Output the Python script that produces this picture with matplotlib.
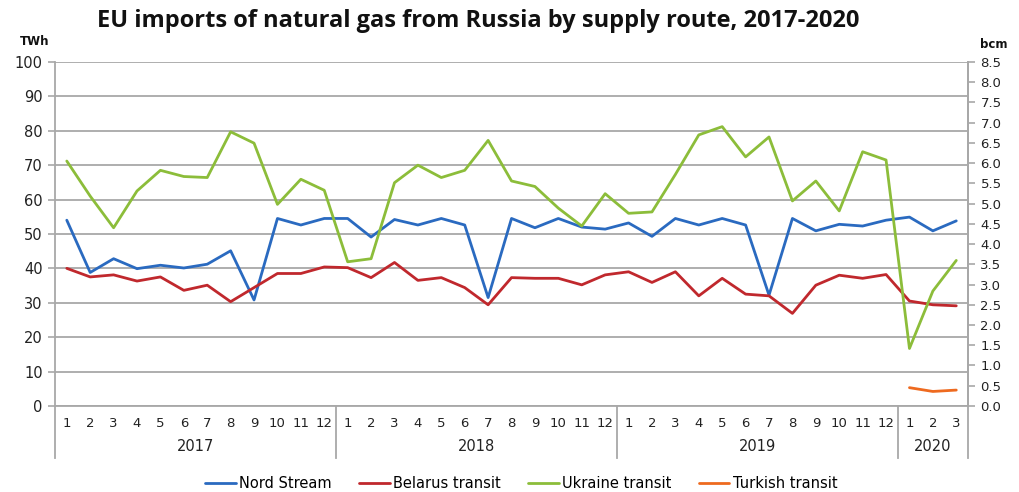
import matplotlib
matplotlib.use("Agg")
import matplotlib.pyplot as plt
import numpy as np

years = ["2017", "2018", "2019", "2020"]
months_per_year = [12, 12, 12, 3]
month_labels = [str(m) for n in months_per_year for m in range(1, n + 1)]

nord_stream = [54.0, 38.8, 42.8, 39.9, 40.9, 40.1, 41.2, 45.1, 30.8, 54.5, 52.6, 54.5,
               54.5, 49.1, 54.2, 52.6, 54.5, 52.6, 31.5, 54.5, 51.8, 54.5, 52.0, 51.4,
               53.2, 49.3, 54.5, 52.6, 54.5, 52.6, 32.2, 54.5, 50.9, 52.8, 52.3, 54.0,
               54.9, 50.9, 53.8]
belarus = [40.0, 37.5, 38.1, 36.3, 37.5, 33.6, 35.1, 30.3, 34.4, 38.5, 38.5, 40.4,
           40.2, 37.3, 41.7, 36.5, 37.3, 34.4, 29.4, 37.3, 37.1, 37.1, 35.2, 38.1,
           39.0, 35.9, 39.0, 32.0, 37.1, 32.5, 32.0, 26.9, 35.1, 38.0, 37.1, 38.2,
           30.5, 29.4, 29.1]
ukraine = [71.2, 61.0, 51.8, 62.5, 68.5, 66.7, 66.4, 79.7, 76.4, 58.6, 65.9, 62.7,
           41.9, 42.8, 64.9, 70.0, 66.4, 68.5, 77.2, 65.4, 63.8, 57.5, 52.3, 61.7,
           56.0, 56.4, 67.3, 78.8, 81.2, 72.4, 78.2, 59.6, 65.4, 56.7, 73.9, 71.5,
           16.7, 33.4, 42.3]
turkish = [None] * 36 + [5.3, 4.2, 4.6]

series = [
    ("Nord Stream", nord_stream, "#2a6ac0"),
    ("Belarus transit", belarus, "#c0282d"),
    ("Ukraine transit", ukraine, "#8cbd3a"),
    ("Turkish transit", turkish, "#ee6a1f"),
]

grid_c = "#a8a8a8"
fig = plt.figure(figsize=(10.2, 4.92), dpi=100)
ax = fig.add_axes([0.054, 0.175, 0.895, 0.699])
x = np.arange(len(month_labels))
for name, vals, col in series:
    v = np.array([np.nan if a is None else a for a in vals], dtype=float)
    ax.plot(x, v, color=col, lw=2.0, label=name, solid_capstyle="round")

ax.set_xlim(-0.5, len(month_labels) - 0.5)
ax.set_ylim(0, 100)
ax.set_yticks(np.arange(0, 101, 10))
ax.grid(axis="y", color=grid_c, lw=1.3)
ax.set_axisbelow(True)
ax.spines["top"].set_visible(False)
for s in ["left", "bottom", "right"]:
    ax.spines[s].set_color(grid_c)
    ax.spines[s].set_linewidth(1.3)
ax.tick_params(axis="y", colors=grid_c, labelcolor="#222222", labelsize=10.5, length=5, width=1.2, pad=4)
ax.set_xticks(x)
ax.set_xticklabels(month_labels, fontsize=9.5, color="#222222")
ax.tick_params(axis="x", length=0, pad=8)

ax2 = ax.twinx()
ax2.set_ylim(0, 8.5)
ax2.set_yticks(np.arange(0, 8.51, 0.5))
ax2.set_yticklabels([f"{t:.1f}" for t in np.arange(0, 8.51, 0.5)])
ax2.tick_params(axis="y", colors=grid_c, labelcolor="#222222", labelsize=9.5, length=5, width=1.2, pad=4)
for s in ["top", "left", "bottom"]:
    ax2.spines[s].set_visible(False)
ax2.spines["right"].set_color(grid_c)
ax2.spines["right"].set_linewidth(1.3)

# year separators and labels
trans = matplotlib.transforms.blended_transform_factory(ax.transData, ax.transAxes)
bounds = np.concatenate([[0], np.cumsum(months_per_year)]) - 0.5
for b in bounds:
    ax.plot([b, b], [0, -0.151], transform=trans, color=grid_c, lw=1.3, clip_on=False)
for i, yr in enumerate(years):
    ax.text((bounds[i] + bounds[i + 1]) / 2, -0.119, yr, transform=trans,
            ha="center", va="center", fontsize=10.5, color="#222222")

fig.text(0.469, 0.958, "EU imports of natural gas from Russia by supply route, 2017-2020",
         ha="center", va="center", fontsize=17, fontweight="bold", family="Open Sans", color="#111111")
fig.text(0.034, 0.915, "TWh", ha="center", va="center", fontsize=8.5, fontweight="bold", color="#111111")
fig.text(0.974, 0.909, "bcm", ha="center", va="center", fontsize=8.5, fontweight="bold", color="#111111")

handles, labels = ax.get_legend_handles_labels()
fig.legend(handles, labels, loc="center", bbox_to_anchor=(0.511, 0.018), ncol=4, frameon=False,
           fontsize=10.5, handlelength=2.1, handletextpad=0.25, columnspacing=1.85)

fig.savefig("out.png", dpi=100)
